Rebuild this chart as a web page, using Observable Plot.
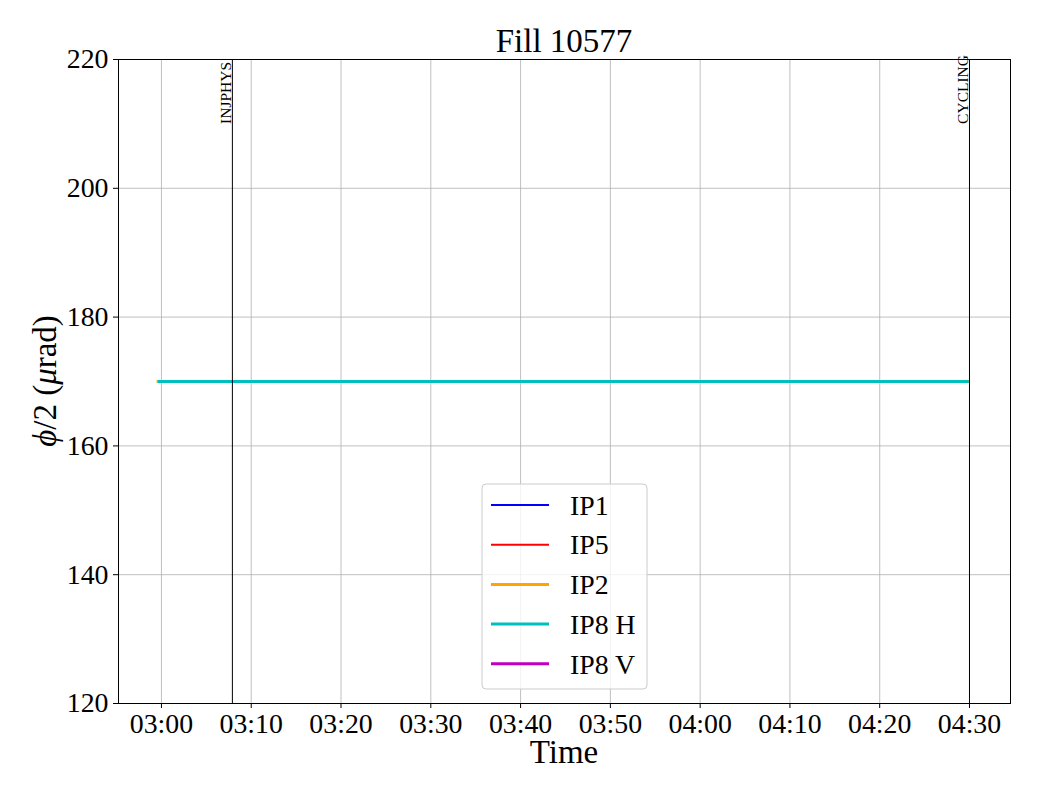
<!DOCTYPE html>
<html><head><meta charset="utf-8">
<script src="https://cdn.jsdelivr.net/npm/d3@7"></script>
<script src="https://cdn.jsdelivr.net/npm/@observablehq/plot@0.6"></script>
<style>
body{margin:0;background:#fff;}
#wrap{width:1040px;height:800px;}
</style></head><body><div id="wrap"></div>
<script>
const day = "2025-05-20";
const FONT = "'Liberation Serif','DejaVu Serif',serif";

const seriesNames = ["IP1", "IP5", "IP2", "IP8 H", "IP8 V"];
const seriesColors = ["#0000ff", "#ff0000", "#ffa500", "#00bfbf", "#bf00bf"];
const seriesWidths = [2, 2, 3, 3, 3];

const ip1Times = ["02:59:35", "04:30:00"];
const ip1Values = [170, 170];
const ip5Times = ["02:59:35", "04:30:00"];
const ip5Values = [170, 170];
const ip2Times = ["02:59:28", "04:30:00"];
const ip2Values = [170, 170];
const ip8hTimes = ["02:59:35", "04:29:55"];
const ip8hValues = [170, 170];
const ip8vTimes = [];
const ip8vValues = [];

const modeNames = ["INJPHYS", "CYCLING"];
const modeTimes = ["03:07:54", "04:30:00"];

const xTicks = ["03:00", "03:10", "03:20", "03:30", "03:40", "03:50", "04:00", "04:10", "04:20", "04:30"];
const yTicks = [120, 140, 160, 180, 200, 220];
const xDomain = ["02:55:13", "04:34:34"];
const yDomain = [120, 220];

const t = s => new Date(`${day}T${s.length === 5 ? s + ":00" : s}Z`);

const seriesTimes = [ip1Times, ip5Times, ip2Times, ip8hTimes, ip8vTimes];
const seriesValues = [ip1Values, ip5Values, ip2Values, ip8hValues, ip8vValues];
const seriesRows = seriesNames.map((name, i) =>
  seriesTimes[i].map((s, j) => ({series: name, time: t(s), value: seriesValues[i][j]})));
const modeRows = modeNames.map((name, i) => ({name, time: t(modeTimes[i]), y: 210}));
const xTickDates = xTicks.map(t);

const plot = Plot.plot({
  width: 1040, height: 800,
  marginLeft: 118, marginRight: 30, marginTop: 59, marginBottom: 97,
  style: {fontFamily: FONT, fontSize: "27.8px", color: "#000", background: "white", overflow: "visible"},
  x: {type: "utc", domain: xDomain.map(t)},
  y: {domain: yDomain},
  marks: [
    Plot.gridX(xTickDates, {stroke: "#b0b0b0", strokeOpacity: 1, strokeWidth: 0.8}),
    Plot.gridY(yTicks, {stroke: "#b0b0b0", strokeOpacity: 1, strokeWidth: 0.8}),
    ...seriesRows.map((rows, i) => Plot.line(rows, {
      x: "time", y: "value", stroke: seriesColors[i], strokeWidth: seriesWidths[i], strokeLinecap: "butt"
    })),
    Plot.ruleX(modeRows, {x: "time", stroke: "black", strokeWidth: 1}),
    Plot.text(modeRows, {x: "time", y: "y", text: "name", rotate: -90, textAnchor: "start",
      lineAnchor: "bottom", dx: -1, fontSize: 15.5, fill: "black"}),
    Plot.frame({stroke: "black", strokeWidth: 1}),
    Plot.axisX(xTickDates, {tickFormat: d3.utcFormat("%H:%M"), tickSize: 5, tickPadding: 5, label: null, fontSize: 27.8}),
    Plot.axisY(yTicks, {tickSize: 5, tickPadding: 5, label: null, fontSize: 27.8})
  ]
});

const svg = d3.select(plot);
svg.append("text").attr("x", 564).attr("y", 52).attr("text-anchor", "middle")
  .style("font-family", FONT).style("font-size", "33px").text("Fill 10577");
svg.append("text").attr("x", 564).attr("y", 763).attr("text-anchor", "middle")
  .style("font-family", FONT).style("font-size", "33px").text("Time");
const yl = svg.append("text").attr("transform", "translate(56,381) rotate(-90)").attr("text-anchor", "middle")
  .style("font-family", FONT).style("font-size", "33px");
yl.append("tspan").style("font-style", "italic").text("ϕ");
yl.append("tspan").text("/2 (");
yl.append("tspan").style("font-style", "italic").text("μ");
yl.append("tspan").text("rad)");

// legend
const lg = svg.append("g");
lg.append("rect").attr("x", 482).attr("y", 484).attr("width", 165).attr("height", 205).attr("rx", 4)
  .attr("fill", "white").attr("fill-opacity", 0.8).attr("stroke", "#cccccc").attr("stroke-width", 1);
seriesNames.forEach((name, i) => {
  const yy = 505 + i * 39.7;
  lg.append("line").attr("x1", 491).attr("x2", 549).attr("y1", yy).attr("y2", yy)
    .attr("stroke", seriesColors[i]).attr("stroke-width", seriesWidths[i]);
  lg.append("text").attr("x", 570).attr("y", yy).attr("dy", "0.35em").attr("text-anchor", "start")
    .style("font-family", FONT).style("font-size", "27.8px").text(name);
});

document.getElementById("wrap").appendChild(plot);
</script></body></html>
